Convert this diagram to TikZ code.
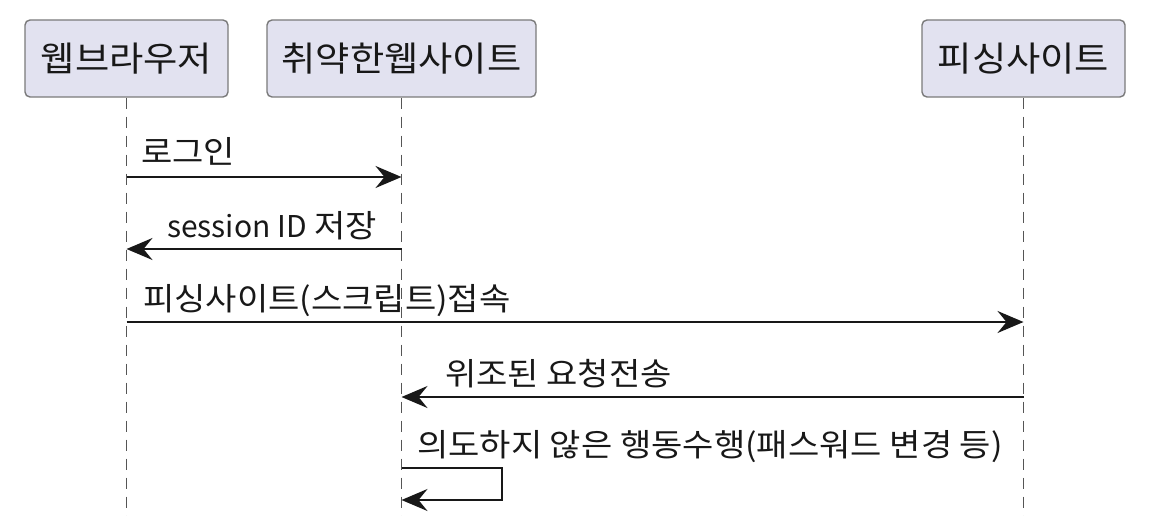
\documentclass[tikz,border=0pt]{standalone}
\usepackage{fontspec}
\setmainfont[FakeStretch=1.08]{Noto Sans CJK KR}
\newfontfamily\latfont{Noto Sans CJK KR}
\usetikzlibrary{arrows.meta}
\definecolor{boxfill}{HTML}{E2E2F0}
\definecolor{boxdraw}{HTML}{7A7A7A}
\definecolor{lifeln}{HTML}{555555}
\definecolor{msgcol}{HTML}{181818}
\begin{document}
\begin{tikzpicture}[x=1pt,y=-1pt,
  actorbox/.style={draw=boxdraw, fill=boxfill, line width=1.4pt, rounded corners=5pt, inner sep=0pt, font=\fontsize{34.5}{38}\selectfont, text=msgcol},
  lifeline/.style={draw=lifeln, line width=1.4pt, dash pattern=on 11pt off 8pt},
  msg/.style={draw=msgcol, line width=2pt, -{Stealth[length=26pt,width=22pt,inset=9pt]}},
  lbl/.style={font=\fontsize{31.5}{36}\selectfont, text=msgcol, inner sep=0pt, anchor=base west}]
\useasboundingbox (0,0) rectangle (1174,516);
\node[actorbox, minimum width=203pt, minimum height=77pt] (b1) at (126.5,58.5) {웹브라우저};
\node[actorbox, minimum width=269pt, minimum height=77pt] (b2) at (401.5,58.5) {취약한웹사이트};
\node[actorbox, minimum width=203pt, minimum height=77pt] (b3) at (1023.5,58.5) {피싱사이트};
\coordinate (l1e) at (126.5,516);
\coordinate (l2e) at (401.5,516);
\coordinate (l3e) at (1023.5,516);
\draw[lifeline] (b1.south) -- (l1e);
\draw[lifeline] (b2.south) -- (l2e);
\draw[lifeline] (b3.south) -- (l3e);
% message anchors
\coordinate (a1s) at (126.5,177); \coordinate (a1e) at (401.5,177);
\coordinate (a2s) at (401.5,249); \coordinate (a2e) at (126.5,249);
\coordinate (a3s) at (126.5,322); \coordinate (a3e) at (1023.5,322);
\coordinate (a4s) at (1023.5,397); \coordinate (a4e) at (401.5,397);
\coordinate (a5s) at (401.5,468); \coordinate (a5a) at (502,468); \coordinate (a5b) at (502,500); \coordinate (a5e) at (401.5,500);
\draw[msg] (a1s) -- (a1e);
\draw[msg] (a2s) -- (a2e);
\draw[msg] (a3s) -- (a3e);
\draw[msg] (a4s) -- (a4e);
\draw[msg] (a5s) -- (a5a) -- (a5b) -- (a5e);
\node[lbl] (t1) at (141,163) {로그인};
\node[lbl] (t2) at (167,237) {{\latfont\fontsize{30}{34}\selectfont session ID} 저장};
\node[lbl] (t3) at (143,310) {피싱사이트(스크립트)접속};
\node[lbl] (t4) at (445,385) {위조된 요청전송};
\node[lbl] (t5) at (417,456) {의도하지 않은 행동수행(패스워드 변경 등)};
\end{tikzpicture}
\end{document}
